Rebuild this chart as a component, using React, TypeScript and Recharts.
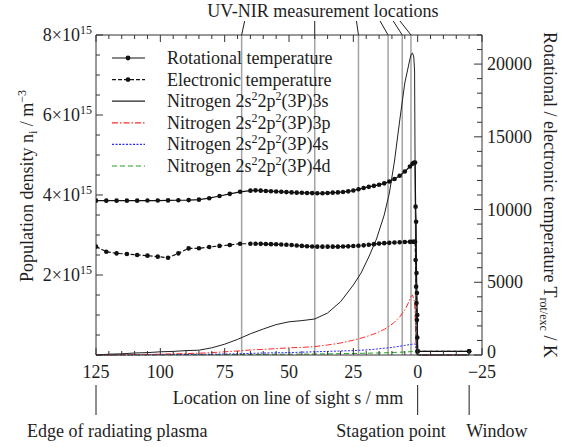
import React from 'react';
import { ComposedChart, Line, XAxis, YAxis, ReferenceLine, Legend, Label } from 'recharts';

const FONT = '"Liberation Serif", "Times New Roman", serif';
const INK = '#1e1e1e';
const AXIS = '#333';
const FS = 18;

// position on the line of sight s [mm]: 125 = plasma edge, 0 = stagnation point, -20 = window
const tempS = [
  125, 121, 117, 113, 109, 105, 101, 97, 93, 89, 85, 81, 77, 73, 69, 65,
  63, 61, 59, 57, 55, 53, 51, 49, 47, 45, 43, 41, 39, 37, 35, 33, 31, 29, 27, 25,
  23, 21, 19, 17, 15, 13, 11, 9, 7, 5, 3, 2, 1.5, 1.0,
  0.8, 0.6, 0.45, 0.3, 0.15, 0, -20,
];
const rotationalT = [
  10610, 10610, 10610, 10610, 10610, 10620, 10620, 10630, 10640, 10650, 10680, 10780, 10930, 11080, 11220, 11300,
  11320, 11300, 11280, 11260, 11240, 11220, 11200, 11180, 11160, 11150, 11140, 11130, 11120, 11125, 11140, 11160, 11180, 11210, 11250, 11310,
  11400, 11480, 11560, 11630, 11700, 11800, 11930, 12100, 12320, 12620, 12960, 13150, 13220, 13230,
  10200, 9160, 5640, 4260, 2750, 250, 250,
];
const electronicT = [
  7450, 7100, 6990, 6940, 6880, 6830, 6760, 6690, 6990, 7330, 7340, 7420, 7500, 7560, 7650, 7650,
  7650, 7640, 7630, 7620, 7610, 7600, 7580, 7560, 7530, 7500, 7480, 7460, 7450, 7450, 7450, 7450, 7450, 7460, 7470, 7490,
  7510, 7540, 7580, 7620, 7660, 7690, 7710, 7730, 7750, 7770, 7780, 7790, 7790, 7790,
  6530, 4700, 3575, 2400, 1200, 250, 250,
];

// population densities in 10^15 m^-3
const popS = [
  125, 120, 115, 110, 105, 100, 95, 90, 85, 80, 75, 70, 65, 60, 55, 50, 45, 40, 35, 30,
  25, 22, 19, 16, 13, 11, 9, 7, 5, 4, 3, 2.5, 2, 1.5, 1.2, 0.9, 0.6, 0.3, 0, -20,
];
const n3s = [
  0, 0.02, 0.03, 0.05, 0.06, 0.08, 0.09, 0.11, 0.12, 0.18, 0.27, 0.39, 0.53, 0.65, 0.76, 0.83, 0.86, 0.9, 1.05, 1.33,
  1.75, 2.05, 2.45, 2.9, 3.5, 4.05, 4.85, 5.85, 6.8, 7.1, 7.4, 7.52, 7.55, 7.45, 7.1, 3.5, 0.4, 0.05, 0, 0,
];
const n3p = [
  0, 0, 0.005, 0.01, 0.015, 0.02, 0.03, 0.035, 0.045, 0.06, 0.08, 0.1, 0.125, 0.14, 0.16, 0.18, 0.19, 0.21, 0.25, 0.3,
  0.37, 0.42, 0.48, 0.55, 0.64, 0.72, 0.82, 0.95, 1.13, 1.25, 1.4, 1.47, 1.5, 1.4, 1.3, 0.8, 0.2, 0.03, 0, 0,
];
const n4s = [
  0, 0, 0.002, 0.004, 0.006, 0.01, 0.012, 0.015, 0.017, 0.02, 0.025, 0.03, 0.04, 0.05, 0.055, 0.06, 0.07, 0.08, 0.09, 0.1,
  0.11, 0.12, 0.13, 0.15, 0.17, 0.18, 0.2, 0.22, 0.24, 0.25, 0.26, 0.265, 0.27, 0.275, 0.275, 0.27, 0.1, 0.02, 0, 0,
];
const n4d = [
  0, 0, 0.001, 0.002, 0.003, 0.004, 0.005, 0.006, 0.007, 0.008, 0.01, 0.012, 0.014, 0.016, 0.018, 0.02, 0.022, 0.025, 0.028, 0.032,
  0.038, 0.042, 0.046, 0.05, 0.055, 0.06, 0.065, 0.07, 0.075, 0.078, 0.082, 0.085, 0.088, 0.09, 0.09, 0.088, 0.04, 0.01, 0, 0,
];

// UV-NIR measurement locations [mm]
const measurementS = [68.4, 40, 23, 11.5, 6, 2.6];
const leaderDx = [3, 0, -2, -8, -9, -11];

const markers = [
  { s: 125, text: 'Edge of radiating plasma', anchor: 'start', dx: -69 },
  { s: 0, text: 'Stagation point', anchor: 'end', dx: 28 },
  { s: -20, text: 'Window', anchor: 'start', dx: -3 },
];

const sTicks = [125, 120, 115, 110, 105, 100, 95, 90, 85, 80, 75, 70, 65, 60, 55, 50, 45, 40, 35, 30, 25, 20, 15, 10, 5, 0, -5, -10, -15, -20, -25];
const nTicks = [0, 0.5, 1, 1.5, 2, 2.5, 3, 3.5, 4, 4.5, 5, 5.5, 6, 6.5, 7, 7.5, 8];
const tTicks = [0, 1000, 2000, 3000, 4000, 5000, 6000, 7000, 8000, 9000, 10000, 11000, 12000, 13000, 14000, 15000, 16000, 17000, 18000, 19000, 20000, 21000, 22000];

const tempData = tempS.map((s, i) => ({ s, rot: rotationalT[i], exc: electronicT[i] }));
const popData = popS.map((s, i) => ({ s, n3s: n3s[i], n3p: n3p[i], n4s: n4s[i], n4d: n4d[i] }));

const txt = { fontFamily: FONT, fontSize: FS, fill: INK };

function BottomTick({ x, y, payload }: any) {
  const v = payload.value;
  const major = v % 25 === 0;
  return (
    <g>
      <line x1={x} y1={y} x2={x} y2={y - (major ? 7 : 4)} stroke={AXIS} />
      {major && (
        <text x={x} y={y + 23} textAnchor="middle" {...txt}>
          {v < 0 ? `\u2212${-v}` : v}
        </text>
      )}
    </g>
  );
}

function TopTick({ x, y, payload }: any) {
  const major = payload.value % 25 === 0;
  return <line x1={x} y1={y} x2={x} y2={y + (major ? 7 : 4)} stroke={AXIS} />;
}

function LeftTick({ x, y, payload }: any) {
  const v = payload.value;
  const major = v % 2 === 0;
  return (
    <g>
      <line x1={x} y1={y} x2={x + (major ? 7 : 4)} y2={y} stroke={AXIS} />
      {major && v > 0 && (
        <text x={x - 4} y={y + 6} textAnchor="end" {...txt}>
          {v}×10
          <tspan dy={-7} fontSize={12}>15</tspan>
        </text>
      )}
    </g>
  );
}

function RightTick({ x, y, payload }: any) {
  const v = payload.value;
  const major = v % 5000 === 0;
  return (
    <g>
      <line x1={x} y1={y} x2={x - (major ? 8 : 5)} y2={y} stroke={AXIS} />
      {major && (
        <text x={x + 5} y={v === 0 ? y + 3 : y + 6} textAnchor="start" {...txt}>
          {v}
        </text>
      )}
    </g>
  );
}

const measurementShape = (dx: number) => (p: any) => {
  const top = Math.min(p.y1, p.y2);
  const bottom = Math.max(p.y1, p.y2);
  return (
    <g>
      <line x1={p.x1} y1={top} x2={p.x1} y2={bottom} stroke="#a3a3a3" strokeWidth={1.5} />
      <line x1={p.x1} y1={top} x2={p.x1 + dx} y2={top - 14} stroke={INK} strokeWidth={1} />
    </g>
  );
};

const markerShape = (m: (typeof markers)[number]) => (p: any) => {
  const bottom = Math.max(p.y1, p.y2);
  return (
    <g>
      <line x1={p.x1} y1={bottom + 30} x2={p.x1} y2={bottom + 60} stroke={INK} strokeWidth={1} />
      <text x={p.x1 + m.dx} y={bottom + 82} textAnchor={m.anchor as any} {...txt}>
        {m.text}
      </text>
    </g>
  );
};

const nitrogen = (level: string) => (
  <>
    Nitrogen 2s<tspan dy={-7} fontSize={12}>2</tspan>
    <tspan dy={7}>2p</tspan>
    <tspan dy={-7} fontSize={12}>2</tspan>
    <tspan dy={7}>(3P){level}</tspan>
  </>
);

const legendRows = [
  { stroke: '#111', dash: undefined, dot: true, label: 'Rotational temperature' as React.ReactNode },
  { stroke: '#111', dash: '4 2', dot: true, label: 'Electronic temperature' as React.ReactNode },
  { stroke: '#222', dash: undefined, dot: false, label: nitrogen('3s') },
  { stroke: '#ff2a2a', dash: '6 2 1.5 2', dot: false, label: nitrogen('3p') },
  { stroke: '#2a2aff', dash: '2 1.5', dot: false, label: nitrogen('4s') },
  { stroke: '#22a022', dash: '5 3', dot: false, label: nitrogen('4d') },
];

function LegendBox() {
  return (
    <svg width={270} height={140}>
      {legendRows.map((r, i) => {
        const cy = 10 + i * 21.6;
        return (
          <g key={i}>
            <line x1={8} y1={cy} x2={41} y2={cy} stroke={r.stroke} strokeWidth={1.2} strokeDasharray={r.dash} />
            {r.dot && <circle cx={24} cy={cy} r={2.4} fill="#111" />}
            <text x={63} y={cy + 6} {...txt}>
              {r.label}
            </text>
          </g>
        );
      })}
    </svg>
  );
}

export default function App() {
  return (
    <div style={{ position: 'absolute', left: 0, top: 0, width: 561, height: 447, background: '#fff' }}>
      <ComposedChart width={561} height={447} margin={{ top: 34, right: 0, bottom: 0, left: 0 }}>
        <XAxis
          dataKey="s"
          type="number"
          domain={[-25, 125]}
          reversed
          allowDataOverflow
          ticks={sTicks}
          interval={0}
          height={92}
          tickSize={0}
          tickMargin={0}
          tickLine={false}
          tick={<BottomTick />}
          axisLine={{ stroke: AXIS }}
        >
          <Label
            content={({ viewBox }: any) => (
              <text x={viewBox.x + viewBox.width / 2 - 1} y={viewBox.y + 49} textAnchor="middle" {...txt}>
                Location on line of sight s / mm
              </text>
            )}
          />
        </XAxis>
        <XAxis
          xAxisId="top"
          orientation="top"
          dataKey="s"
          type="number"
          domain={[-25, 125]}
          reversed
          allowDataOverflow
          ticks={sTicks}
          interval={0}
          height={1}
          tickSize={0}
          tickMargin={0}
          tickLine={false}
          tick={<TopTick />}
          axisLine={{ stroke: AXIS }}
        >
          <Label
            content={({ viewBox }: any) => (
              <text x={viewBox.x + viewBox.width / 2 + 34} y={viewBox.y - 17} textAnchor="middle" {...txt}>
                UV-NIR measurement locations
              </text>
            )}
          />
        </XAxis>
        <YAxis
          yAxisId="n"
          type="number"
          domain={[0, 8]}
          ticks={nTicks}
          interval={0}
          width={96}
          tickSize={0}
          tickMargin={0}
          tickLine={false}
          tick={<LeftTick />}
          axisLine={{ stroke: AXIS }}
        >
          <Label
            content={({ viewBox }: any) => {
              const cx = viewBox.x + 33;
              const cy = viewBox.y + viewBox.height / 2 - 9;
              return (
                <text x={cx} y={cy} transform={`rotate(-90 ${cx} ${cy})`} textAnchor="middle" {...txt}>
                  Population density n<tspan dy={4} fontSize={12}>i</tspan>
                  <tspan dy={-4}> / m</tspan>
                  <tspan dy={-7} fontSize={12}>−3</tspan>
                </text>
              );
            }}
          />
        </YAxis>
        <YAxis
          yAxisId="T"
          orientation="right"
          type="number"
          domain={[0, 22000]}
          ticks={tTicks}
          interval={0}
          width={79}
          tickSize={0}
          tickMargin={0}
          tickLine={false}
          tick={<RightTick />}
          axisLine={{ stroke: AXIS }}
        >
          <Label
            content={({ viewBox }: any) => {
              const cx = viewBox.x + 62;
              const cy = viewBox.y + viewBox.height / 2;
              return (
                <text x={cx} y={cy} transform={`rotate(90 ${cx} ${cy})`} textAnchor="middle" {...txt}>
                  Rotational / electronic temperature T<tspan dy={4} fontSize={12}>rot/exc</tspan>
                  <tspan dy={-4}> / K</tspan>
                </text>
              );
            }}
          />
        </YAxis>

        {measurementS.map((s, i) => (
          <ReferenceLine key={`m${s}`} x={s} yAxisId="n" shape={measurementShape(leaderDx[i])} />
        ))}
        {markers.map((m) => (
          <ReferenceLine key={`k${m.s}`} x={m.s} yAxisId="n" shape={markerShape(m)} />
        ))}

        <Line data={popData} yAxisId="n" dataKey="n4d" stroke="#22a022" strokeWidth={1} strokeDasharray="5 3" dot={false} activeDot={false} isAnimationActive={false} />
        <Line data={popData} yAxisId="n" dataKey="n4s" stroke="#2a2aff" strokeWidth={1} strokeDasharray="2 1.5" dot={false} activeDot={false} isAnimationActive={false} />
        <Line data={popData} yAxisId="n" dataKey="n3p" stroke="#ff2a2a" strokeWidth={1} strokeDasharray="6 2 1.5 2" dot={false} activeDot={false} isAnimationActive={false} />
        <Line data={popData} yAxisId="n" dataKey="n3s" stroke="#222" strokeWidth={1} dot={false} activeDot={false} isAnimationActive={false} />
        <Line data={tempData} yAxisId="T" dataKey="exc" stroke="#111" strokeWidth={1.2} strokeDasharray="4 2" dot={{ r: 2.3, fill: '#111', stroke: '#111', strokeWidth: 0 }} activeDot={false} isAnimationActive={false} />
        <Line data={tempData} yAxisId="T" dataKey="rot" stroke="#111" strokeWidth={1.2} dot={{ r: 2.3, fill: '#111', stroke: '#111', strokeWidth: 0 }} activeDot={false} isAnimationActive={false} />

        <Legend
          layout="vertical"
          align="center"
          verticalAlign="middle"
          content={() => <LegendBox />}
          wrapperStyle={{ left: 104, top: 48, width: 270, height: 140 }}
        />
      </ComposedChart>
    </div>
  );
}
